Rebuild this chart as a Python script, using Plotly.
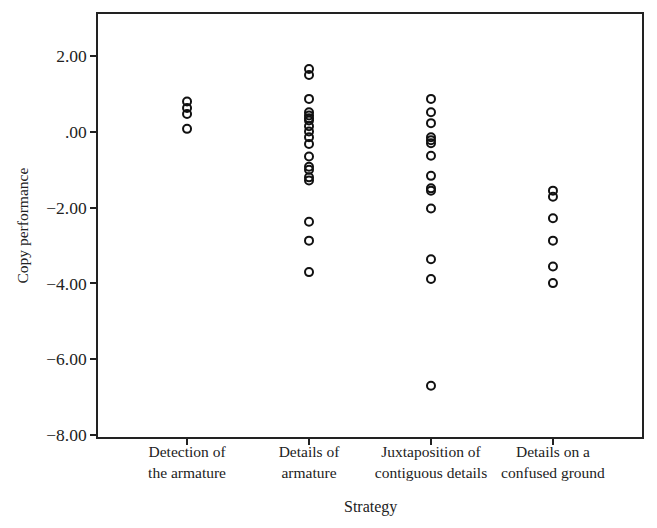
import plotly.graph_objects as go

categories = ["Detection of<br>the armature", "Details of<br>armature",
              "Juxtaposition of<br>contiguous details", "Details on a<br>confused ground"]

detection_armature = [0.80, 0.63, 0.47, 0.08]
details_armature = [1.66, 1.50, 0.87, 0.52, 0.43, 0.36, 0.30, 0.15, 0.01, -0.14,
                    -0.32, -0.65, -0.92, -1.00, -1.20, -1.28, -2.37, -2.87, -3.70]
juxtaposition = [0.87, 0.52, 0.23, -0.14, -0.22, -0.30, -0.63, -1.16, -1.49, -1.55,
                 -2.02, -3.36, -3.88, -6.70]
confused_ground = [-1.55, -1.71, -2.28, -2.87, -3.55, -3.99]

series = [detection_armature, details_armature, juxtaposition, confused_ground]

y_tickvals = [2, 0, -2, -4, -6, -8]
y_ticktext = ["2.00", ".00", "\u22122.00", "\u22124.00", "\u22126.00", "\u22128.00"]

xs, ys = [], []
for i, vals in enumerate(series):
    xs += [i] * len(vals)
    ys += vals

fig = go.Figure()
fig.add_trace(go.Scatter(
    x=xs, y=ys, mode="markers",
    marker=dict(symbol="circle-open", size=8, color="#111111", line=dict(width=2, color="#111111")),
    showlegend=False, hoverinfo="y"))

font_family = "Liberation Serif, DejaVu Serif, serif"
axis_common = dict(showline=True, linecolor="#222222", linewidth=1.5, mirror=True,
                   showgrid=False, zeroline=False, ticks="outside", ticklen=6,
                   tickcolor="#222222", tickwidth=1.5, automargin=False)

# page body has an 8px default margin, so the figure is sized to fit the window
fig.update_layout(
    width=649, height=520,
    margin=dict(l=90, r=15, t=6, b=91),
    plot_bgcolor="white", paper_bgcolor="white",
    font=dict(family=font_family, size=15, color="#222222"),
    xaxis=dict(range=[-0.73, 3.73], tickvals=[0, 1, 2, 3], ticktext=categories,
               tickfont=dict(family=font_family, size=15.5, color="#222222"),
               ticklabelstandoff=-6,
               **axis_common),
    yaxis=dict(range=[-8.05, 3.11], tickvals=y_tickvals, ticktext=y_ticktext,
               tickfont=dict(family=font_family, size=17.5, color="#222222"),
               **axis_common),
    annotations=[
        dict(text="Strategy", xref="paper", yref="paper", x=0.5, y=0, yshift=-70,
             xanchor="center", yanchor="middle", showarrow=False,
             font=dict(family=font_family, size=16, color="#222222")),
        dict(text="Copy performance", xref="paper", yref="paper", x=0, y=0.5, xshift=-76,
             xanchor="center", yanchor="middle", textangle=-90, showarrow=False,
             font=dict(family=font_family, size=15.5, color="#222222")),
    ],
)

fig.write_html("out.html")
